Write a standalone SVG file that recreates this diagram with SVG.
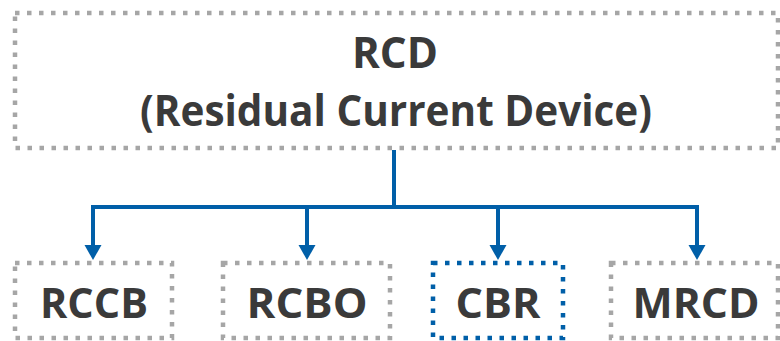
<svg xmlns="http://www.w3.org/2000/svg" width="780" height="341" viewBox="0 0 780 341">
<style>
.box{fill:none;stroke:#a6a6a6;stroke-width:4.5;stroke-dasharray:4.5 7.5}
.hl{fill:none;stroke:#005fa8;stroke-width:4.5;stroke-dasharray:4.5 7.5}
.t{font-family:"Open Sans","Noto Sans","Liberation Sans",sans-serif;font-weight:bold;fill:#3a3a3a;text-anchor:middle}
.c{fill:none;stroke:#005fa8;stroke-width:4}
.ah{fill:#005fa8}
</style>
<rect width="780" height="341" fill="#ffffff"/>
<g id="rcd">
<rect class="box" x="15" y="13" width="763" height="135"/>
<text class="t" x="395" y="68" font-size="43" textLength="86" lengthAdjust="spacingAndGlyphs">RCD</text>
<text class="t" x="396" y="126" font-size="43" textLength="512" lengthAdjust="spacingAndGlyphs">(Residual Current Device)</text>
</g>
<g id="connectors">
<path class="c" d="M394,150 V207"/>
<path class="c" d="M93,207 H697"/>
<path class="c" d="M93,205 V246"/>
<path class="c" d="M307,207 V246"/>
<path class="c" d="M498,207 V246"/>
<path class="c" d="M697,205 V246"/>
<path class="ah" d="M84.5,245 L101.5,245 L93,260 Z"/>
<path class="ah" d="M298.5,245 L315.5,245 L307,260 Z"/>
<path class="ah" d="M489.5,245 L506.5,245 L498,260 Z"/>
<path class="ah" d="M688.5,245 L705.5,245 L697,260 Z"/>
</g>
<g id="rccb">
<rect class="box" x="15" y="263" width="157" height="75"/>
<text class="t" x="94" y="318" font-size="42" textLength="108" lengthAdjust="spacingAndGlyphs">RCCB</text>
</g>
<g id="rcbo">
<rect class="box" x="223" y="263" width="167" height="75"/>
<text class="t" x="307" y="318" font-size="42" textLength="121" lengthAdjust="spacingAndGlyphs">RCBO</text>
</g>
<g id="cbr">
<rect class="hl" x="433" y="263" width="130" height="75"/>
<text class="t" x="498" y="318" font-size="42" textLength="85" lengthAdjust="spacingAndGlyphs">CBR</text>
</g>
<g id="mrcd">
<rect class="box" x="611" y="263" width="167" height="75"/>
<text class="t" x="696" y="318" font-size="42" textLength="127" lengthAdjust="spacingAndGlyphs">MRCD</text>
</g>
</svg>
